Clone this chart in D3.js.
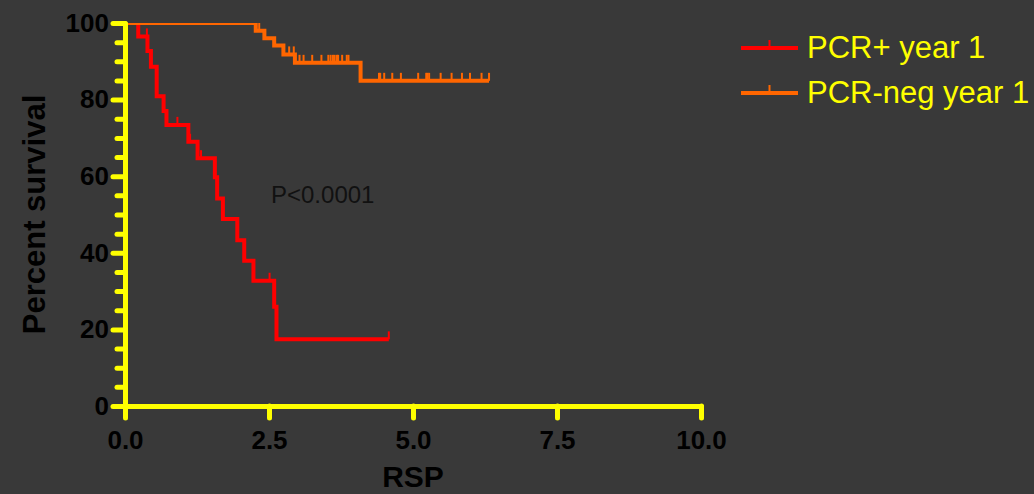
<!DOCTYPE html>
<html>
<head>
<meta charset="utf-8">
<script src="https://cdn.jsdelivr.net/npm/d3@7"></script>
<style>
  html, body { margin: 0; padding: 0; background: #393939; }
  svg { display: block; }
  text { font-family: "Liberation Sans", Arial, sans-serif; }
</style>
</head>
<body>
<svg id="chart" width="1034" height="494"></svg>
<script>
// Kaplan-Meier curves: survival (%) vs RSP
const seriesNames = ["PCR+ year 1", "PCR-neg year 1"];
const seriesColors = ["#ff0000", "#ff6600"];

// PCR+ year 1: event times and survival after each step
const posTimes = [0, 0.23, 0.39, 0.45, 0.55, 0.67, 0.72, 1.10, 1.26, 1.56, 1.60, 1.70, 1.95, 2.07, 2.23, 2.59, 2.63, 4.58];
const posSurv  = [100, 96.5, 92.7, 88.6, 80.9, 77.0, 73.4, 69.0, 64.7, 59.7, 54.2, 48.8, 43.3, 37.9, 32.7, 25.9, 17.4, 17.4];
const posCensored = [0.38, 0.91, 1.13, 1.32, 2.51, 4.58];

// PCR-neg year 1
const negTimes = [0, 2.27, 2.42, 2.59, 2.75, 2.95, 4.09, 6.32];
const negSurv  = [100, 98.0, 96.0, 94.1, 91.8, 89.6, 84.9, 84.9];
const negCensored = [1.44, 2.33, 2.85, 2.93, 3.03, 3.10, 3.25, 3.41, 3.53, 3.57, 3.61, 3.64, 3.68, 3.70,
                     3.77, 3.85, 3.88, 4.41, 4.43, 4.50, 4.64, 4.79, 5.09, 5.23, 5.25, 5.28, 5.48, 5.67,
                     5.85, 5.99, 6.19, 6.32];

const xTicks = [0, 2.5, 5, 7.5, 10];
const yTicks = [0, 20, 40, 60, 80, 100];
const yMinorTicks = d3.range(5, 100, 5).filter(v => v % 20 !== 0);
const pValueText = "P<0.0001";

const svg = d3.select("#chart");
const axisColor = "#ffff00";

const x = d3.scaleLinear().domain([0, 10]).range([125, 701]);
const y = d3.scaleLinear().domain([0, 100]).range([406, 23]);

// survival at time t for a step curve
function survAt(times, surv, t) {
  let s = surv[0];
  for (let i = 0; i < times.length; i++) if (times[i] <= t) s = surv[i];
  return s;
}

const series = [
  { name: seriesNames[0], color: seriesColors[0], times: posTimes, surv: posSurv, cens: posCensored },
  { name: seriesNames[1], color: seriesColors[1], times: negTimes, surv: negSurv, cens: negCensored }
];

// plot area clip (curves at 100% are cut along the top edge)
svg.append("defs").append("clipPath").attr("id", "plotClip")
  .append("rect")
  .attr("x", x(0)).attr("y", y(100))
  .attr("width", x(10) - x(0) + 20).attr("height", y(0) - y(100) + 10);

const plot = svg.append("g").attr("clip-path", "url(#plotClip)");

const line = d3.line()
  .x(d => x(d[0]))
  .y(d => y(d[1]))
  .curve(d3.curveStepAfter);

series.forEach(s => {
  const pts = s.times.map((t, i) => [t, s.surv[i]]);
  plot.append("path")
    .attr("d", line(pts))
    .attr("fill", "none")
    .attr("stroke", s.color)
    .attr("stroke-width", 4)
    .attr("stroke-linejoin", "miter");
  plot.selectAll(null)
    .data(s.cens)
    .join("line")
    .attr("x1", d => x(d)).attr("x2", d => x(d))
    .attr("y1", d => y(survAt(s.times, s.surv, d)))
    .attr("y2", d => y(survAt(s.times, s.surv, d)) - 8)
    .attr("stroke", s.color)
    .attr("stroke-width", 2);
});

// Y axis: minor ticks
const yMinor = svg.append("g")
  .attr("transform", `translate(${x(0)},0)`)
  .call(d3.axisLeft(y).tickValues(yMinorTicks).tickSize(8).tickFormat(""));
yMinor.select(".domain").remove();

// Y axis: major ticks with labels
const yAxis = svg.append("g")
  .attr("transform", `translate(${x(0)},0)`)
  .call(d3.axisLeft(y).tickValues(yTicks).tickSize(12).tickSizeOuter(0).tickPadding(4).tickFormat(d3.format("d")));

// X axis
const xAxis = svg.append("g")
  .attr("transform", `translate(0,${y(0)})`)
  .call(d3.axisBottom(x).tickValues(xTicks).tickSize(12).tickSizeOuter(0).tickPadding(13).tickFormat(d3.format(".1f")));

[yMinor, yAxis, xAxis].forEach(g => {
  g.selectAll(".domain, .tick line")
    .attr("stroke", axisColor)
    .attr("stroke-width", 5)
    .attr("stroke-linecap", "round");
  g.selectAll("text")
    .attr("fill", "#000")
    .attr("font-size", 26)
    .attr("font-weight", "bold")
    .attr("font-family", "'Liberation Sans', Arial, sans-serif");
});

// Axis titles
svg.append("text")
  .attr("transform", `translate(45,${(y(0) + y(100)) / 2}) rotate(-90)`)
  .attr("text-anchor", "middle")
  .attr("font-size", 31)
  .attr("font-weight", "bold")
  .attr("fill", "#000")
  .text("Percent survival");

svg.append("text")
  .attr("x", (x(0) + x(10)) / 2)
  .attr("y", 487)
  .attr("text-anchor", "middle")
  .attr("font-size", 30)
  .attr("font-weight", "bold")
  .attr("fill", "#000")
  .text("RSP");

// P value annotation
svg.append("text")
  .attr("x", 271)
  .attr("y", 203)
  .attr("font-size", 24)
  .attr("fill", "#111")
  .text(pValueText);

// Legend
const legend = svg.append("g");
series.forEach((s, i) => {
  const ly = 48 + i * 45;
  legend.append("line")
    .attr("x1", 741).attr("x2", 798)
    .attr("y1", ly).attr("y2", ly)
    .attr("stroke", s.color).attr("stroke-width", 4);
  legend.append("line")
    .attr("x1", 769.5).attr("x2", 769.5)
    .attr("y1", ly).attr("y2", ly - 8)
    .attr("stroke", s.color).attr("stroke-width", 2);
  legend.append("text")
    .attr("x", 807)
    .attr("y", ly + 10)
    .attr("font-size", 31)
    .attr("fill", axisColor)
    .text(s.name);
});
</script>
</body>
</html>
